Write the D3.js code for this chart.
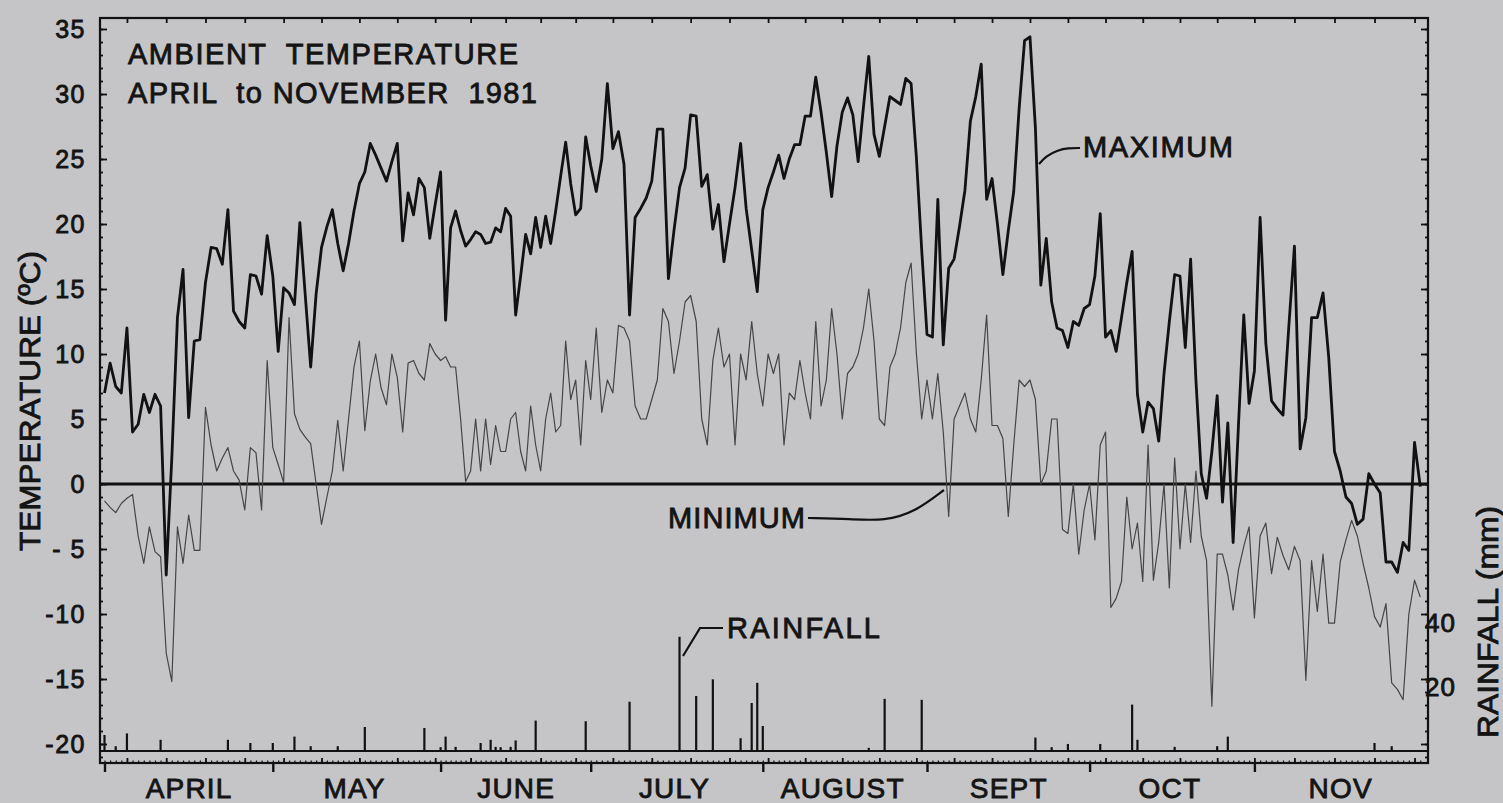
<!DOCTYPE html>
<html><head><meta charset="utf-8">
<script src="https://cdn.jsdelivr.net/npm/d3@7"></script>
<style>
html,body{margin:0;padding:0;background:#c5c5c7;}
svg{display:block;}
text{font-family:"Liberation Sans",Arial,Helvetica,sans-serif;fill:#141414;stroke:#141414;stroke-width:0.85px;}
</style></head><body>
<svg id="chart" width="1503" height="803"></svg>
<script>
// ---------------- DATA ----------------
const firstDay = "1981-04-01";
const monthLabels = ["APRIL","MAY","JUNE","JULY","AUGUST","SEPT","OCT","NOV"];
const tempTicks = [35,30,25,20,15,10,5,0,-5,-10,-15,-20];
const tempTickLabels = ["35","30","25","20","15","10","5","0","- 5","-10","-15","-20"];
const rainTicks = [20,40];
const titleLines = ["AMBIENT  TEMPERATURE","APRIL  to NOVEMBER  1981"];

// daily maximum temperature, 1 April .. 30 November 1981 (deg C)
const maxTemp = [
 7.0, 9.3, 7.5, 7.0, 12.0, 4.0, 4.6, 6.9, 5.5, 6.9, 6.0, -7.0, 2.0, 12.8, 16.5, 5.1, 11.0, 11.1, 15.5, 18.2, 18.1, 16.9, 21.1, 13.3, 12.5, 12.0, 16.1, 16.0, 14.6, 19.1,
 16.0, 10.2, 15.1, 14.7, 13.8, 20.1, 14.5, 9.0, 14.6, 18.2, 19.8, 21.1, 18.5, 16.4, 18.5, 21.0, 23.1, 24.0, 26.2, 25.3, 24.3, 23.3, 24.8, 26.2, 18.7, 22.4, 20.7, 23.5, 22.8, 18.9, 21.5,
 24.0, 12.6, 19.7, 21.0, 19.5, 18.3, 18.8, 19.4, 19.2, 18.5, 18.6, 19.7, 19.4, 21.2, 20.6, 13.0, 16.0, 19.2, 17.7, 20.5, 18.2, 20.6, 18.5, 21.0, 23.7, 26.3, 23.1, 20.7, 21.2, 26.7,
 24.5, 22.5, 25.0, 30.8, 25.8, 27.1, 24.6, 13.0, 20.5, 21.2, 22.0, 23.3, 27.3, 27.3, 15.8, 19.5, 22.8, 24.3, 28.4, 28.3, 22.9, 23.8, 19.6, 21.5, 17.1, 20.0, 22.8, 26.2, 21.2, 18.0, 14.8,
 21.1, 22.8, 24.0, 25.3, 23.5, 25.0, 26.1, 26.1, 28.3, 28.3, 31.3, 28.6, 25.5, 22.1, 26.0, 28.6, 29.7, 28.4, 24.8, 29.0, 32.9, 26.9, 25.2, 27.5, 29.8, 29.5, 29.2, 31.2, 30.8, 25.1, 18.0,
 11.5, 11.3, 21.9, 10.7, 16.6, 17.3, 19.8, 22.6, 27.9, 29.8, 32.3, 21.9, 23.5, 20.0, 16.1, 19.5, 22.5, 28.9, 34.1, 34.4, 27.4, 15.3, 18.9, 14.0, 12.0, 11.8, 10.5, 12.5, 12.2, 13.5,
 13.8, 16.0, 20.8, 11.3, 11.8, 10.2, 12.8, 15.5, 17.9, 6.9, 4.0, 6.3, 5.8, 3.3, 8.5, 12.5, 16.1, 16.0, 10.5, 17.3, 8.0, 0.8, -1.1, 2.5, 6.8, -1.4, 4.7, -4.5, 4.5, 13.0, 6.2,
 8.7, 20.5, 10.8, 6.4, 5.8, 5.3, 12.0, 18.3, 2.7, 5.1, 12.8, 12.8, 14.7, 9.7, 2.5, 1.0, -1.0, -1.5, -3.1, -2.7, 0.8, 0.0, -0.7, -6.0, -6.0, -6.8, -4.5, -5.1, 3.2, -0.2
];

// daily minimum temperature, 1 April .. 30 November 1981 (deg C)
const minTemp = [
 -1.3, -1.8, -2.2, -1.5, -1.1, -0.8, -4.0, -6.1, -3.3, -5.2, -5.6, -13.0, -15.2, -3.3, -6.1, -2.4, -5.1, -5.1, 5.9, 3.0, 1.0, 2.0, 2.8, 1.0, 0.3, -2.0, 2.8, 2.4, -2.0, 9.5,
 2.8, 1.5, 0.1, 12.8, 5.4, 4.2, 3.6, 3.1, 0.0, -3.1, -1.0, 1.0, 4.9, 1.0, 5.0, 9.0, 11.0, 4.1, 7.9, 10.0, 7.4, 6.1, 10.0, 8.2, 4.0, 9.3, 9.5, 8.5, 8.0, 10.8, 10.0,
 9.5, 9.8, 9.0, 9.0, 5.0, 0.2, 1.0, 5.0, 1.0, 5.0, 1.5, 4.5, 2.5, 2.5, 5.0, 5.5, 2.5, 1.0, 6.0, 3.0, 1.0, 5.0, 7.0, 4.0, 4.5, 11.0, 6.5, 8.0, 3.0, 9.5,
 6.5, 12.0, 5.5, 8.0, 7.0, 12.2, 12.0, 11.0, 6.0, 5.0, 5.0, 6.5, 8.0, 13.5, 12.5, 8.5, 11.0, 14.0, 14.5, 12.5, 5.0, 3.0, 9.5, 12.0, 9.0, 10.0, 3.0, 10.0, 8.0, 12.5, 8.5,
 6.0, 10.0, 8.5, 10.0, 3.0, 7.0, 6.5, 9.5, 7.0, 5.0, 12.5, 6.0, 8.0, 13.5, 10.0, 5.0, 8.5, 9.0, 10.0, 12.0, 15.0, 11.0, 5.0, 4.5, 9.0, 10.0, 12.0, 15.5, 17.0, 10.0, 5.0,
 8.0, 5.0, 8.5, 4.0, -2.5, 5.0, 6.0, 7.0, 5.0, 4.0, 8.0, 13.0, 4.5, 4.5, 3.5, -2.5, 3.0, 8.0, 7.5, 8.0, 6.5, 0.0, 1.0, 5.0, 5.0, -3.5, -3.8, 0.0, -5.4, -2.0,
 0.0, -4.3, 3.0, 4.0, -9.5, -8.8, -7.5, -1.0, -5.0, -3.0, -7.5, 3.0, -7.4, -4.5, 0.0, -8.0, 2.0, -5.0, 0.0, -4.5, 1.0, -4.0, -5.9, -17.1, -5.4, -5.4, -7.0, -9.7, -6.6, -4.8, -3.3,
 -10.3, -4.0, -3.0, -6.9, -4.1, -5.5, -6.6, -4.8, -5.9, -15.1, -5.9, -9.8, -5.4, -10.7, -10.7, -6.0, -4.3, -2.8, -4.0, -6.1, -8.0, -10.2, -11.0, -9.2, -15.3, -15.8, -16.6, -10.0, -7.4, -8.7
];

// rainfall events: day number counted from 1 April (0 = 1 April) and amount (mm)
const rainDay = [0, 2, 4, 10, 22, 26, 30, 34, 37, 42, 47, 58, 61, 62, 64, 69, 71, 72, 73, 75, 76, 80, 90, 98, 107, 110, 113, 118, 120, 121, 122, 142, 145, 152, 173, 176, 179, 185, 191, 192, 199, 207, 209, 235, 238];
const rainMm  = [5.0, 1.5, 5.5, 3.5, 3.5, 2.5, 2.5, 4.5, 1.5, 1.5, 7.5, 7.2, 1.2, 4.5, 1.3, 2.5, 3.5, 1.3, 1.2, 1.3, 3.3, 9.5, 9.3, 15.4, 35.7, 17.2, 22.4, 4.0, 15.0, 21.3, 7.8, 1.0, 16.3, 16.0, 4.2, 1.2, 2.2, 2.2, 14.5, 3.5, 1.3, 1.5, 4.5, 2.5, 1.5];

// ---------------- CHART ----------------
const svg = d3.select("#chart");
const L = 100, R = 1428, T = 18, B = 763;
const start = d3.timeParse("%Y-%m-%d")(firstDay);
const monthStarts = d3.range(0, 9).map(k => d3.timeMonth.offset(start, k));
const x = d3.scaleTime().domain(monthStarts)
  .range([104.5, 272.8, 440.6, 590.7, 762.8, 927, 1089.6, 1254.4, 1426]);
const y = d3.scaleLinear().domain([35, -20]).range([29, 744]);
const yr = d3.scaleLinear().domain([0, 40]).range([751, 623]);
const day = i => d3.timeDay.offset(start, i);
const end = monthStarts[8];

// frame
svg.append("rect").attr("x", L).attr("y", T).attr("width", R - L).attr("height", B - T)
  .attr("fill", "none").attr("stroke", "#111").attr("stroke-width", 2.2);

function styleAxis(g){ g.select(".domain").remove(); g.selectAll("line").attr("stroke","#111").attr("stroke-width",1.8); }

// left axis: minor ticks, then major ticks + labels
svg.append("g").attr("transform", `translate(${L},0)`)
  .call(d3.axisLeft(y).tickValues(d3.range(-21, 36)).tickSize(-3).tickFormat(""))
  .call(styleAxis);
const la = svg.append("g").attr("transform", `translate(${L},0)`)
  .call(d3.axisLeft(y).tickValues(tempTicks).tickSize(-7).tickPadding(14)
    .tickFormat((d, i) => tempTickLabels[i]))
  .call(styleAxis);
la.selectAll("text").attr("font-size", 25).attr("letter-spacing", "1.5px").attr("fill", "#141414");

// right axis (temperature ticks)
svg.append("g").attr("transform", `translate(${R},0)`)
  .call(d3.axisRight(y).tickValues(d3.range(-21, 36)).tickSize(-3).tickFormat(""))
  .call(styleAxis);
svg.append("g").attr("transform", `translate(${R},0)`)
  .call(d3.axisRight(y).tickValues(tempTicks).tickSize(-7).tickFormat(""))
  .call(styleAxis);
// right axis rainfall labels
const ra = svg.append("g").attr("transform", `translate(${R - 3},0)`)
  .call(d3.axisRight(yr).tickValues(rainTicks).tickSize(0).tickPadding(0))
  .call(g => g.select(".domain").remove());
ra.selectAll("text").attr("font-size", 26).attr("letter-spacing", "1px").attr("fill", "#141414");

// top axis weekly ticks
svg.append("g").attr("transform", `translate(0,${T})`)
  .call(d3.axisBottom(x).tickValues(d3.timeWeek.range(start, end)).tickSize(5).tickFormat(""))
  .call(styleAxis);

// bottom axis: daily, weekly, month ticks
svg.append("g").attr("transform", `translate(0,${B})`)
  .call(d3.axisTop(x).tickValues(d3.timeDay.range(start, end)).tickSize(2.5).tickFormat(""))
  .call(g => { g.select(".domain").remove(); g.selectAll("line").attr("stroke","#111").attr("stroke-width",1.2); });
svg.append("g").attr("transform", `translate(0,${B})`)
  .call(d3.axisTop(x).tickValues(d3.timeWeek.range(start, end)).tickSize(5).tickFormat(""))
  .call(styleAxis);
svg.append("g").attr("transform", `translate(0,${B})`)
  .call(d3.axisBottom(x).tickValues(monthStarts.slice(0, 8)).tickSize(9).tickFormat(""))
  .call(g => { g.select(".domain").remove(); g.selectAll("line").attr("stroke","#111").attr("stroke-width",2.4); });
const ma = svg.append("g").attr("transform", `translate(0,${B})`)
  .call(d3.axisBottom(x).tickValues(monthStarts.slice(0, 8).map(m => d3.timeDay.offset(m, 15)))
    .tickSize(0).tickPadding(15).tickFormat((d, i) => monthLabels[i]))
  .call(g => g.select(".domain").remove());
ma.selectAll("text").attr("font-size", 28).attr("letter-spacing", "1.2px").attr("fill", "#141414");

// zero line and rainfall baseline
svg.append("line").attr("x1", L).attr("x2", R).attr("y1", y(0)).attr("y2", y(0))
  .attr("stroke", "#111").attr("stroke-width", 3);
svg.append("line").attr("x1", L).attr("x2", R).attr("y1", yr(0)).attr("y2", yr(0))
  .attr("stroke", "#111").attr("stroke-width", 2);

// rainfall bars
svg.append("g").selectAll("line").data(rainDay).join("line")
  .attr("x1", d => x(day(d))).attr("x2", d => x(day(d)))
  .attr("y1", yr(0)).attr("y2", (d, i) => yr(rainMm[i]))
  .attr("stroke", "#111").attr("stroke-width", 2.2);

// minimum and maximum lines
const line = d3.line().x((d, i) => x(day(i))).y(d => y(d));
svg.append("path").attr("d", line(minTemp)).attr("fill", "none")
  .attr("stroke", "#454545").attr("stroke-width", 1.2).attr("stroke-linejoin", "round");
svg.append("path").attr("d", line(maxTemp)).attr("fill", "none")
  .attr("stroke", "#111").attr("stroke-width", 2.8).attr("stroke-linejoin", "round");

// title
svg.append("text").attr("x", 128).attr("y", 64).attr("font-size", 29)
  .attr("textLength", 390).attr("lengthAdjust", "spacing").style("white-space", "pre")
  .text(titleLines[0]);
svg.append("text").attr("x", 128).attr("y", 103).attr("font-size", 29)
  .attr("textLength", 409).attr("lengthAdjust", "spacing").style("white-space", "pre")
  .text(titleLines[1]);

// axis titles
svg.append("text").attr("transform", "translate(40,401) rotate(-90)")
  .attr("text-anchor", "middle").attr("font-size", 30)
  .attr("textLength", 300).attr("lengthAdjust", "spacingAndGlyphs")
  .text("TEMPERATURE (ºC)");
svg.append("text").attr("transform", "translate(1498,622) rotate(-90)")
  .attr("text-anchor", "middle").attr("font-size", 29)
  .attr("textLength", 232).attr("lengthAdjust", "spacingAndGlyphs")
  .text("RAINFALL (mm)");

// annotations
function label(t, x0, yb, w){
  svg.append("text").attr("x", x0).attr("y", yb).attr("font-size", 29)
    .attr("textLength", w).attr("lengthAdjust", "spacing").text(t);
}
label("MAXIMUM", 1083, 157, 150);
label("MINIMUM", 668, 528, 137);
label("RAINFALL", 727, 638, 153);
const lead = d3.line().curve(d3.curveBasis);
svg.append("path").attr("d", lead([[1080,148],[1068,148],[1058,150],[1046,156],[1039,164]]))
  .attr("fill","none").attr("stroke","#111").attr("stroke-width",2.2);
svg.append("path").attr("d", lead([[808,518],[850,519],[885,521],[915,512],[944,490]]))
  .attr("fill","none").attr("stroke","#111").attr("stroke-width",2.2);
svg.append("path").attr("d", d3.line()([[723,628],[700,628],[683,656]]))
  .attr("fill","none").attr("stroke","#111").attr("stroke-width",2.2);
</script>
</body></html>
